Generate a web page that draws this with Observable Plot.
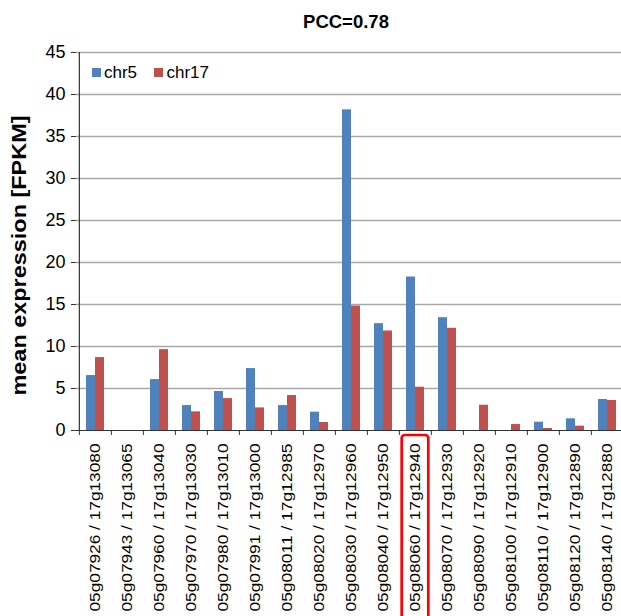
<!DOCTYPE html>
<html><head><meta charset="utf-8">
<script src="https://cdn.jsdelivr.net/npm/d3@7"></script>
<script src="https://cdn.jsdelivr.net/npm/@observablehq/plot@0.6"></script>
<style>
body{margin:0;overflow:hidden;background:#fff;font-family:"Liberation Sans",Arial,sans-serif;}
#wrap{position:relative;width:621px;height:616px;overflow:hidden;background:#fff;}
#title{position:absolute;left:42px;top:12.6px;width:608px;text-align:center;font-weight:bold;font-size:18.5px;line-height:18.5px;color:#000;}
#chart{position:absolute;left:0;top:40px;}
.sw{position:absolute;width:9px;height:9px;}
.lt{position:absolute;font-size:17px;line-height:17px;color:#000;white-space:nowrap;}
</style></head><body>
<div id="wrap"><div id="chart"></div><div id="title"></div><div id="legend"></div></div>
<script>
const title = "PCC=0.78";
const yLabel = "mean expression [FPKM]";
const seriesNames = ["chr5", "chr17"];
const seriesColors = ["#4F81BD", "#C0504D"];
const categories = [
  "05g07926 / 17g13080", "05g07943 / 17g13065", "05g07960 / 17g13040", "05g07970 / 17g13030",
  "05g07980 / 17g13010", "05g07991 / 17g13000", "05g08011 / 17g12985", "05g08020 / 17g12970",
  "05g08030 / 17g12960", "05g08040 / 17g12950", "05g08060 / 17g12940", "05g08070 / 17g12930",
  "05g08090 / 17g12920", "05g08100 / 17g12910", "05g08110 / 17g12900", "05g08120 / 17g12890",
  "05g08140 / 17g12880"
];
const chr5  = [6.54, 0, 6.06, 2.97, 4.64, 7.37, 2.97, 2.18, 38.17, 12.72, 18.27, 13.43, 0, 0, 0.99, 1.39, 3.69];
const chr17 = [8.68, 0, 9.63, 2.22, 3.80, 2.69, 4.16, 0.95, 14.82, 11.85, 5.15, 12.17, 3.01, 0.71, 0.24, 0.52, 3.57];
const yTicks = [0, 5, 10, 15, 20, 25, 30, 35, 40, 45];
const highlighted = "05g08060 / 17g12940";

const rows = categories.map((c, i) => ({cat: c, chr5: chr5[i], chr17: chr17[i]}));

const W = 621, H = 576;
const xStart = 76, xEnd = 625;
const step = (xEnd - xStart) / categories.length;
const pad = 0.4426;
const half = step * (1 - pad) / 2;
const axisColor = "#333";

const plot = Plot.plot({
  width: W, height: H,
  marginTop: 12, marginBottom: 186, marginLeft: 76, marginRight: 0,
  style: {fontFamily: "'Liberation Sans', Arial, sans-serif", background: "#fff", overflow: "visible", color: "#000"},
  x: {domain: categories, range: [xStart, xEnd], paddingInner: pad, paddingOuter: pad / 2, align: 0.5, label: null},
  y: {domain: [0, 45], label: null},
  marks: [
    Plot.gridY(yTicks.filter(t => t > 0), {stroke: "#a8a8a8", strokeOpacity: 1, strokeWidth: 1.5}),
    Plot.barY(rows, {x: "cat", y: "chr5", fill: seriesColors[0], insetRight: half}),
    Plot.barY(rows, {x: "cat", y: "chr17", fill: seriesColors[1], insetLeft: half}),
    Plot.ruleY([0], {stroke: axisColor, strokeWidth: 1.2}),
    Plot.ruleX([categories[0]], {x: d => d, dx: -step / 2, y1: 0, y2: 45, stroke: axisColor, strokeWidth: 1.2}),
    Plot.ruleX(categories, {x: d => d, dx: -step / 2, y1: 0, y2: 0, insetBottom: -5, stroke: axisColor}),
    Plot.axisY({ticks: yTicks, tickSize: 5, tickPadding: 6, fontSize: 18, label: null, stroke: axisColor}),
    Plot.axisX({tickRotate: -90, tickSize: 0, tickPadding: 13, fontSize: 15.5, label: null}),
    Plot.text([yLabel], {text: d => d, frameAnchor: "left", rotate: -90, textAnchor: "middle", dx: -57, dy: 14, fontSize: 20, fontWeight: "bold"}),
    Plot.barY([highlighted], {x: d => d, y1: 0, y2: 0, insetTop: 5, insetBottom: -200, insetLeft: -4.3, insetRight: -4.3, fill: "none", stroke: "#ff0000", strokeWidth: 2.7, rx: 3})
  ]
});

document.getElementById("chart").appendChild(plot);
document.getElementById("title").textContent = title;

d3.select(plot).selectAll("text").each(function () {
  const t = this.textContent;
  if (t === yLabel) {
    d3.select(this).attr("textLength", 280).attr("lengthAdjust", "spacingAndGlyphs");
  } else if (categories.includes(t)) {
    d3.select(this).attr("textLength", 168).attr("lengthAdjust", "spacingAndGlyphs");
  }
});

// legend
const leg = document.getElementById("legend");
const legPos = [{sx: 92, tx: 104}, {sx: 154, tx: 166.5}];
seriesNames.forEach((name, i) => {
  const sw = document.createElement("div");
  sw.className = "sw";
  sw.style.left = legPos[i].sx + "px";
  sw.style.top = "68px";
  sw.style.background = seriesColors[i];
  leg.appendChild(sw);
  const lt = document.createElement("div");
  lt.className = "lt";
  lt.style.left = legPos[i].tx + "px";
  lt.style.top = "64px";
  lt.textContent = name;
  leg.appendChild(lt);
});
</script>
</body></html>
